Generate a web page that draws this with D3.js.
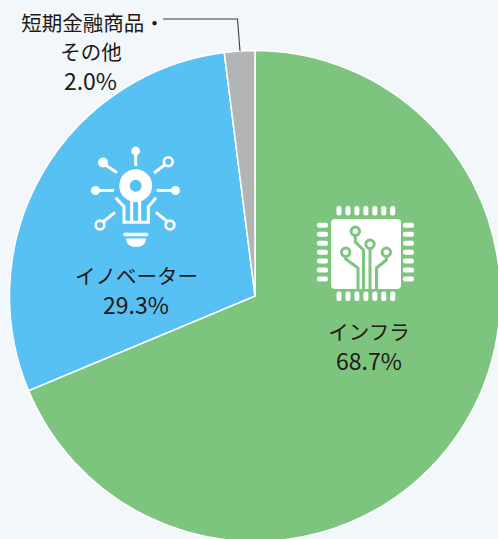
<!DOCTYPE html>
<html>
<head>
<meta charset="utf-8">
<script src="https://cdn.jsdelivr.net/npm/d3@7"></script>
<style>
  html,body{margin:0;padding:0;background:#f2f7fb;overflow:hidden}
  text{font-family:"Noto Sans CJK JP","Noto Sans",sans-serif;fill:#231815}
</style>
</head>
<body>
<div id="chart"></div>
<script>
const categories = ["インフラ", "イノベーター", "短期金融商品・その他"];
const values     = [68.7, 29.3, 2.0];
const colors     = ["#7dc47f", "#57c1f3", "#b3b5b5"];

const width = 498, height = 539;
const cx = 255, cy = 296, radius = 245.5;

const svg = d3.select("#chart").append("svg")
  .attr("width", width).attr("height", height)
  .style("display", "block");

// Pie
const pie = d3.pie().sort(null).value(d => d.v);
const arc = d3.arc().innerRadius(0).outerRadius(radius);
const slices = pie(values.map((v, i) => ({v, name: categories[i]})));

svg.append("g")
  .attr("transform", `translate(${cx},${cy})`)
  .selectAll("path")
  .data(slices).join("path")
    .attr("d", arc)
    .attr("fill", (d, i) => colors[i])
    .attr("stroke", "#fff")
    .attr("stroke-width", 1.5);

// Labels
const fmt = d => d3.format(".1f")(d) + "%";
const labels = [
  {text: categories[0], x: 369, y: 340, size: 20.5},
  {text: fmt(values[0]), x: 369, y: 370, size: 23},
  {text: categories[1], x: 136.5, y: 284, size: 20.5},
  {text: fmt(values[1]), x: 136, y: 314, size: 23},
  {text: "短期金融商品・", x: 93, y: 31, size: 20.5},
  {text: "その他", x: 91, y: 60, size: 20.5},
  {text: fmt(values[2]), x: 90.5, y: 90, size: 23}
];
svg.append("g").selectAll("text")
  .data(labels).join("text")
    .attr("text-anchor", "middle")
    .attr("x", d => d.x).attr("y", d => d.y)
    .attr("font-size", d => d.size)
    .text(d => d.text);

// Leader line
svg.append("path")
  .attr("d", "M163,19H237.5L240,51")
  .attr("fill", "none").attr("stroke", "#3e3a39").attr("stroke-width", 1.1);

// Chip icon
const chip = svg.append("g").attr("fill", "#fff");
chip.append("rect").attr("x", 331).attr("y", 219).attr("width", 70).attr("height", 70).attr("rx", 4);
d3.range(7).forEach(i => {
  const px = 339 + i * 8.95, py = 225.3 + i * 8.95;
  chip.append("rect").attr("x", px - 2.5).attr("y", 206).attr("width", 5).attr("height", 9.5).attr("rx", 2);
  chip.append("rect").attr("x", px - 2.5).attr("y", 291.5).attr("width", 5).attr("height", 9.5).attr("rx", 2);
  chip.append("rect").attr("x", 317).attr("y", py - 2.5).attr("width", 11).attr("height", 5).attr("rx", 2);
  chip.append("rect").attr("x", 403).attr("y", py - 2.5).attr("width", 11).attr("height", 5).attr("rx", 2);
});
const traces = [
  "M355.3,236V242L363.5,250V289",
  "M370,249V289",
  "M345.7,257V259L358,268V289",
  "M386.3,257V260L376.5,268V289"
];
chip.append("g").selectAll("path").data(traces).join("path")
  .attr("d", d => d).attr("fill", "none")
  .attr("stroke", colors[0]).attr("stroke-width", 3);
[[355.3, 231.3], [370, 244.3], [345.7, 252.3], [386.3, 252.3]].forEach(([x, y]) => {
  chip.append("circle").attr("cx", x).attr("cy", y).attr("r", 4.2)
    .attr("fill", "#fff").attr("stroke", colors[0]).attr("stroke-width", 3);
});

// Bulb icon
const bulb = svg.append("g");
const line = s => bulb.append("path").attr("d", s).attr("fill", "none")
  .attr("stroke", "#fff").attr("stroke-width", 3).attr("stroke-linecap", "butt");
bulb.append("circle").attr("cx", 135.7).attr("cy", 185.7).attr("r", 11.2)
  .attr("fill", "none").attr("stroke", "#fff").attr("stroke-width", 10.5);
// rays
line("M135.7,153V166");
line("M104,164L117,172.7");
line("M154,173L166,164");
line("M98,190.5H114");
line("M156.7,190.5H173");
line("M115,212.3L103,222");
line("M156,212.3L168,222");
// filament / bulb body
line("M115.7,197.7L124,206.7V222.3H148.3V206.7L156,197.7");
line("M131.7,199V222");
line("M139.7,199V222");
// solid dots
[[135.7, 151, 4.4], [103, 162.5, 5], [95.5, 190.5, 4.5], [175.5, 190.5, 4.5]].forEach(([x, y, r]) => {
  bulb.append("circle").attr("cx", x).attr("cy", y).attr("r", r).attr("fill", "#fff");
});
// hollow dots
[[168.3, 161.7], [100, 225], [170, 225]].forEach(([x, y]) => {
  bulb.append("circle").attr("cx", x).attr("cy", y).attr("r", 4.4)
    .attr("fill", colors[1]).attr("stroke", "#fff").attr("stroke-width", 2.6);
});
// base
bulb.append("rect").attr("x", 123.3).attr("y", 232.7).attr("width", 25).attr("height", 3.6).attr("rx", 1.5).attr("fill", "#fff");
bulb.append("path").attr("d", "M126,238.5H146C146,244 142,247 136,247C130,247 126,244 126,238.5Z").attr("fill", "#fff");
</script>
</body>
</html>
